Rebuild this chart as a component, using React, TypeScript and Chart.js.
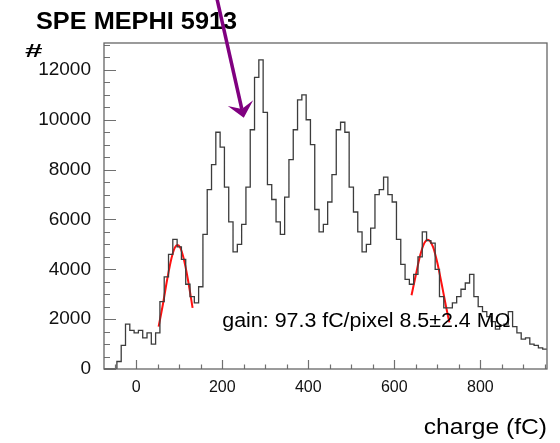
import React, { useEffect, useRef } from 'react';
import { Chart, registerables } from 'chart.js';

Chart.register(...registerables);

// ---- data -----------------------------------------------------------------
const binLow = -75; // fC, lower edge of first bin
const binWidth = 10; // fC
const counts = [
  0, 0, 0, 300, 950, 1800, 1550, 1450, 1550, 1250,
  1450, 1000, 1450, 2700, 3700, 4600, 5200, 4900, 4400, 3400,
  2900, 2650, 3300, 5400, 7200, 8200, 9500, 8900, 7300, 5900,
  4700, 5000, 5800, 7300, 9600, 11700, 12400, 10300, 7400, 6800,
  5900, 5400, 6900, 8400, 9600, 10800, 11000, 10000, 9000, 6400,
  5500, 5800, 6700, 7800, 9600, 9900, 9500, 7300, 6300, 5500,
  4700, 5000, 5650, 7000, 7200, 7700, 7000, 6700, 5200, 4200,
  3600, 3400, 3800, 4500, 5500, 5150, 5050, 4000, 2900, 2450,
  2450, 2650, 2900, 3200, 3450, 3800, 2900, 2500, 2300, 2100,
  1900, 1600, 1750, 1800, 2300, 1700, 1450, 1200, 1250, 1000,
  950, 850, 800,
];

const fit1X = [52, 62, 72, 82, 90, 96, 102, 110, 120, 131];
const fit1Y = [1700, 2600, 3600, 4450, 4880, 4980, 4880, 4450, 3600, 2450];
const fit2X = [640, 650, 660, 670, 678, 690, 700, 710, 720, 728];
const fit2Y = [2960, 3770, 4550, 5060, 5190, 4900, 4260, 3420, 2530, 1870];

const xTickValues = [0, 200, 400, 600, 800];
const yTickValues = [0, 2000, 4000, 6000, 8000, 10000, 12000];
const xMinorStep = 50;
const yMinorStep = 500;

const xMin = -75;
const xMax = 955;
const yMin = 0;
const yMax = 13080;

const titleText = 'SPE MEPHI 5913';
const xTitleText = 'charge (fC)';
const yTitleText = '#';
const gainText = 'gain: 97.3 fC/pixel 8.5\u00b12.4 M\u03a9';
const gainAt = { x: 200, y: 1700 };
const arrowFrom = { x: 188, y: 14830 };
const arrowTo = { x: 250, y: 10080 };

const FONT = '"Liberation Sans", Arial, Helvetica, sans-serif';

// ---- helpers --------------------------------------------------------------
const histPoints: { x: number; y: number }[] = [{ x: binLow, y: 0 }];
counts.forEach((c, i) => histPoints.push({ x: binLow + i * binWidth, y: c }));
histPoints.push({ x: binLow + counts.length * binWidth, y: counts[counts.length - 1] });

const fit1 = fit1X.map((x, i) => ({ x, y: fit1Y[i] }));
const fit2 = fit2X.map((x, i) => ({ x, y: fit2Y[i] }));

function stretchedText(
  ctx: CanvasRenderingContext2D,
  text: string,
  x: number,
  y: number,
  font: string,
  sx: number,
  align: CanvasTextAlign = 'left'
) {
  ctx.save();
  ctx.font = font;
  ctx.textAlign = align;
  ctx.textBaseline = 'alphabetic';
  ctx.fillStyle = '#000';
  ctx.translate(x, y);
  ctx.scale(sx, 1);
  ctx.fillText(text, 0, 0);
  ctx.restore();
}

const rootStyle = {
  id: 'rootStyle',
  afterDatasetsDraw(chart: any) {
    const { ctx, chartArea: a, scales } = chart;
    const xs = scales.x;
    const ys = scales.y;
    ctx.save();
    ctx.strokeStyle = '#707070';
    ctx.lineWidth = 1.2;
    ctx.beginPath();
    for (let v = Math.ceil(xMin / xMinorStep) * xMinorStep; v <= xMax; v += xMinorStep) {
      const px = Math.round(xs.getPixelForValue(v)) + 0.5;
      const major = Math.abs(v) % 200 === 0;
      ctx.moveTo(px, a.bottom);
      ctx.lineTo(px, a.bottom - (major ? 9 : 4.5));
    }
    for (let v = yMin; v <= yMax; v += yMinorStep) {
      const py = Math.round(ys.getPixelForValue(v)) + 0.5;
      const major = v % 2000 === 0;
      ctx.moveTo(a.left, py);
      ctx.lineTo(a.left + (major ? 12 : 6), py);
    }
    ctx.stroke();
    ctx.strokeStyle = '#666';
    ctx.lineWidth = 1.3;
    ctx.strokeRect(a.left, a.top, a.right - a.left, a.bottom - a.top);
    ctx.restore();

    // gain annotation
    stretchedText(
      ctx,
      gainText,
      xs.getPixelForValue(gainAt.x),
      ys.getPixelForValue(gainAt.y),
      `20px ${FONT}`,
      1.07
    );
  },
  afterDraw(chart: any) {
    const { ctx, chartArea: a, scales } = chart;
    const xs = scales.x;
    const ys = scales.y;
    // title, axis titles
    stretchedText(ctx, titleText, 36, 28.5, `bold 23px ${FONT}`, 1.1);
    stretchedText(ctx, yTitleText, 25, 57, `bold 18px ${FONT}`, 1.75);
    stretchedText(ctx, xTitleText, a.right, 434, `22px ${FONT}`, 1.12, 'right');

    // arrow
    const x0 = xs.getPixelForValue(arrowFrom.x);
    const y0 = ys.getPixelForValue(arrowFrom.y);
    const x1 = xs.getPixelForValue(arrowTo.x);
    const y1 = ys.getPixelForValue(arrowTo.y);
    const len = Math.hypot(x1 - x0, y1 - y0);
    const ux = (x1 - x0) / len;
    const uy = (y1 - y0) / len;
    const px = -uy;
    const py = ux;
    const headLen = 15;
    const headHalf = 13;
    const notch = 9;
    ctx.save();
    ctx.strokeStyle = '#800080';
    ctx.fillStyle = '#800080';
    ctx.lineWidth = 3.5;
    ctx.beginPath();
    ctx.moveTo(x0, y0);
    ctx.lineTo(x1 - ux * notch, y1 - uy * notch);
    ctx.stroke();
    ctx.beginPath();
    ctx.moveTo(x1, y1);
    ctx.lineTo(x1 - ux * headLen + px * headHalf, y1 - uy * headLen + py * headHalf);
    ctx.lineTo(x1 - ux * notch, y1 - uy * notch);
    ctx.lineTo(x1 - ux * headLen - px * headHalf, y1 - uy * headLen - py * headHalf);
    ctx.closePath();
    ctx.fill();
    ctx.restore();
  },
};

export default function App() {
  const canvasRef = useRef<HTMLCanvasElement | null>(null);

  useEffect(() => {
    const canvas = canvasRef.current;
    if (!canvas) return;
    const chart = new Chart(canvas, {
      type: 'line',
      data: {
        datasets: [
          {
            data: histPoints,
            stepped: true,
            borderColor: '#3c3c3c',
            borderWidth: 1.3,
            pointRadius: 0,
            fill: false,
          },
          {
            data: fit1,
            borderColor: '#ff1010',
            borderWidth: 2,
            pointRadius: 0,
            tension: 0.4,
            cubicInterpolationMode: 'monotone',
            fill: false,
          },
          {
            data: fit2,
            borderColor: '#ff1010',
            borderWidth: 2,
            pointRadius: 0,
            tension: 0.4,
            cubicInterpolationMode: 'monotone',
            fill: false,
          },
        ],
      } as any,
      options: {
        animation: false,
        responsive: false,
        maintainAspectRatio: false,
        layout: { padding: { top: 43, right: 13, left: 0, bottom: 0 } },
        plugins: {
          legend: { display: false },
          tooltip: { enabled: false },
          title: { display: false },
        },
        scales: {
          x: {
            type: 'linear',
            min: xMin,
            max: xMax,
            grid: { display: false, drawTicks: false },
            border: { display: false },
            afterBuildTicks: (s: any) => {
              s.ticks = xTickValues.map((v) => ({ value: v }));
            },
            afterFit: (s: any) => {
              s.height = 74;
            },
            ticks: {
              font: { family: FONT, size: 16 },
              color: '#111',
              padding: 9,
              maxRotation: 0,
              autoSkip: false,
              callback: (v: number) => String(v),
            },
          },
          y: {
            type: 'linear',
            min: yMin,
            max: yMax,
            grid: { display: false, drawTicks: false },
            border: { display: false },
            afterBuildTicks: (s: any) => {
              s.ticks = yTickValues.map((v) => ({ value: v }));
            },
            afterFit: (s: any) => {
              s.width = 104;
            },
            ticks: {
              font: { family: FONT, size: 19 },
              color: '#111',
              padding: 13,
              autoSkip: false,
              callback: (v: number) => String(v),
            },
          },
        },
      } as any,
      plugins: [rootStyle],
    });
    return () => chart.destroy();
  }, []);

  return (
    <div style={{ position: 'fixed', left: 0, top: 0, width: 560, height: 443, background: '#fff' }}>
      <canvas ref={canvasRef} width={560} height={443} style={{ display: 'block' }} />
    </div>
  );
}
